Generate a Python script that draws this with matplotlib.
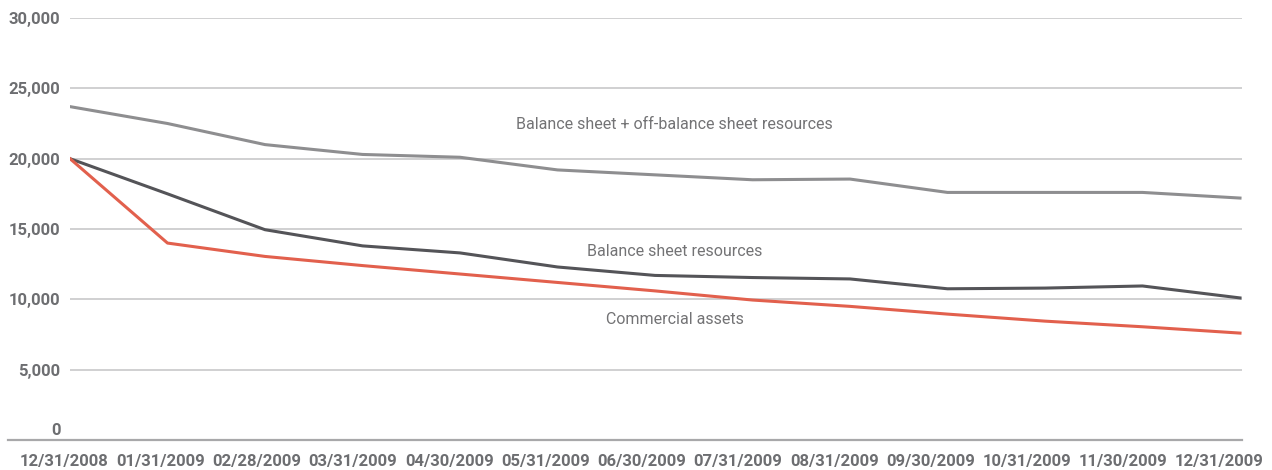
import matplotlib
matplotlib.use("Agg")
import matplotlib.pyplot as plt
import matplotlib.transforms as mtransforms
from matplotlib.ticker import FuncFormatter

dates = ["12/31/2008", "01/31/2009", "02/28/2009", "03/31/2009", "04/30/2009",
         "05/31/2009", "06/30/2009", "07/31/2009", "08/31/2009", "09/30/2009",
         "10/31/2009", "11/30/2009", "12/31/2009"]
balance_off = [23700, 22500, 21000, 20300, 20100, 19200, 18850, 18500, 18550,
               17600, 17600, 17600, 17200]
balance = [20000, 17500, 14950, 13800, 13300, 12300, 11700, 11550, 11450,
           10750, 10800, 10950, 10100]
commercial = [20000, 14000, 13050, 12400, 11800, 11200, 10600, 9950, 9500,
              8950, 8450, 8050, 7600]
yticks = [0, 5000, 10000, 15000, 20000, 25000, 30000]

W, H = 1272, 470
fig = plt.figure(figsize=(W / 100, H / 100), dpi=100)
left, right, bottom, top = 70, 1242, 440, 18
ax = fig.add_axes([left / W, 1 - bottom / H, (right - left) / W, (bottom - top) / H])

fam = ["Roboto", "DejaVu Sans"]
x = list(range(len(dates)))
ax.plot(x, balance_off, color="#8e8e90", lw=2.2, solid_joinstyle="round")
ax.plot(x, balance, color="#545458", lw=2.2, solid_joinstyle="round")
ax.plot(x, commercial, color="#e2604d", lw=2.2, solid_joinstyle="round")

ax.set_ylim(0, 30000)
ax.set_xlim(0, 12 + 2 / 97.5)
ax.set_yticks(yticks)
ax.yaxis.set_major_formatter(FuncFormatter(lambda v, p: f"{int(v):,}"))
ax.set_xticks(x)
ax.set_xticklabels(dates)
for s in ax.spines.values():
    s.set_visible(False)
ax.grid(axis="y", color="#c8c8ca", lw=1.2)
ax.tick_params(axis="both", length=0, colors="#6d6e71")
ax.tick_params(axis="y", pad=7)
ax.tick_params(axis="x", pad=10)
for lab in ax.get_yticklabels() + ax.get_xticklabels():
    lab.set_fontfamily(fam)
    lab.set_fontweight("bold")
    lab.set_fontsize(12)
    lab.set_color("#6d6e71")

# x labels are spread slightly tighter than the data points
for i, lab in enumerate(ax.get_xticklabels()):
    dx = (-6 - 1.2 * i) / 100
    lab.set_transform(lab.get_transform() +
                      mtransforms.ScaledTranslation(dx, 0, fig.dpi_scale_trans))

# baseline extended to the left
ax.plot([(8 - left) / (right - left), 1], [0, 0], transform=ax.get_yaxis_transform(),
        color="#a8a8aa", lw=1.6, clip_on=False, zorder=3)

# shift the "0" label up
off = mtransforms.ScaledTranslation(0, 11 / 100, fig.dpi_scale_trans)
lab0 = ax.get_yticklabels()[0]
lab0.set_transform(lab0.get_transform() + off)

tk = dict(ha="center", va="center", color="#737375", fontsize=11.5, family=fam)
ax.text(6.2, 22400, "Balance sheet + off-balance sheet resources", **tk)
ax.text(6.2, 13400, "Balance sheet resources", **tk)
ax.text(6.2, 8600, "Commercial assets", **tk)

fig.savefig("out.png", dpi=100)
